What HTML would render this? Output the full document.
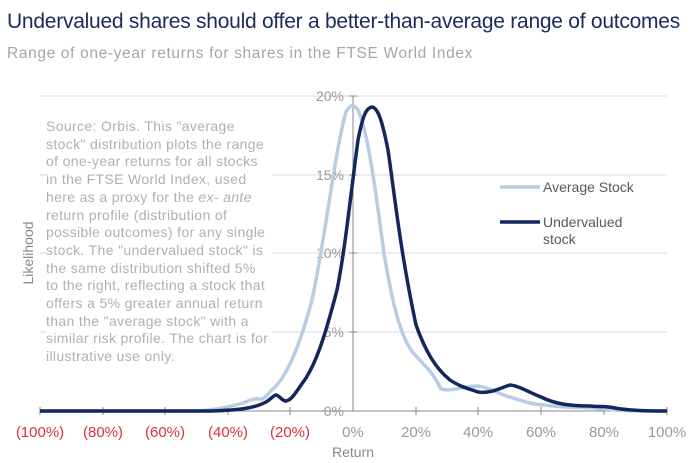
<!DOCTYPE html><html><head><style>
body{margin:0;background:#fff;font-family:"Liberation Sans",sans-serif;}
.t{position:absolute;left:7px;top:10px;font-size:21px;color:#1b2a5c;letter-spacing:-0.25px;white-space:nowrap;}
.s{position:absolute;left:7px;top:45px;font-size:15.5px;color:#a6a6a6;letter-spacing:0.65px;white-space:nowrap;}
.n{position:absolute;left:46px;top:118px;font-size:14px;line-height:17.7px;color:#b0b0b0;background:#fff;white-space:nowrap;letter-spacing:0.35px;padding-right:4px;}
</style></head><body>
<div class="t">Undervalued shares should offer a better-than-average range of outcomes</div>
<div class="s">Range of one-year returns for shares in the FTSE World Index</div>
<svg width="700" height="463" style="position:absolute;left:0;top:0" font-family="Liberation Sans" font-size="14">
<g stroke="#d9d9d9" stroke-width="1">
<line x1="40" x2="667" y1="96" y2="96"/><line x1="40" x2="667" y1="175" y2="175"/><line x1="40" x2="667" y1="253" y2="253"/><line x1="40" x2="667" y1="332" y2="332"/>
</g>
<line x1="353" x2="353" y1="96" y2="411" stroke="#888"/>
<line x1="40" x2="667" y1="411" y2="411" stroke="#888"/>
<g stroke="#888"><line x1="349" x2="357" y1="96" y2="96"/><line x1="349" x2="357" y1="175" y2="175"/><line x1="349" x2="357" y1="253" y2="253"/><line x1="349" x2="357" y1="332" y2="332"/>
<line x1="40" x2="40" y1="407" y2="415"/><line x1="103" x2="103" y1="407" y2="415"/><line x1="165" x2="165" y1="407" y2="415"/><line x1="228" x2="228" y1="407" y2="415"/><line x1="290" x2="290" y1="407" y2="415"/><line x1="416" x2="416" y1="407" y2="415"/><line x1="478" x2="478" y1="407" y2="415"/><line x1="541" x2="541" y1="407" y2="415"/><line x1="604" x2="604" y1="407" y2="415"/><line x1="667" x2="667" y1="407" y2="415"/></g>
<g fill="#999" text-anchor="end"><text x="344" y="101">20%</text><text x="344" y="180">15%</text><text x="344" y="258">10%</text><text x="344" y="337">5%</text><text x="344" y="416">0%</text></g>
<g text-anchor="middle" font-size="15"><g fill="#e0303a"><text x="40" y="437">(100%)</text><text x="103" y="437">(80%)</text><text x="165" y="437">(60%)</text><text x="228" y="437">(40%)</text><text x="290" y="437">(20%)</text></g>
<g fill="#999"><text x="353" y="437">0%</text><text x="416" y="437">20%</text><text x="478" y="437">40%</text><text x="541" y="437">60%</text><text x="604" y="437">80%</text><text x="667" y="437">100%</text></g>
<text x="353" y="457" fill="#888" font-size="14">Return</text>
<text transform="translate(33,253) rotate(-90)" fill="#888" font-size="14">Likelihood</text></g>
<path fill="none" stroke="#b8cce4" stroke-width="3.5" stroke-linejoin="round" d="M40,411 L196,411 C215,410 230,407 243,403 C250,400 255,398 259,399 C265,401 270,390 275,387 C285,377 298,352 312,300 C325,240 335,150 346,112 C350,104 354,104 358,110 C365,125 372,160 384,254 C392,300 400,340 416,356 C425,366 432,371 441,389 C450,392 465,386 478,386 C492,388 500,395 510,397 C525,402 535,405 545,405 C565,408 580,407 595,408 C615,411 640,411 667,411"/>
<path fill="none" stroke="#12275e" stroke-width="3.5" stroke-linejoin="round" d="M40,411 L212,411 C240,410 255,408 266,402 C271,399 274,395 276,395 C280,396 282,401 286,401 C292,400 296,392 306,378 C316,362 324,340 337,290 C345,250 350,200 358,140 C363,115 366,108 372,107 C378,108 382,120 388,150 C394,190 400,250 416,325 C425,350 435,368 450,380 C460,387 470,389 478,392 C490,394 500,388 510,385 C520,386 530,393 541,397 C555,404 570,406 590,406 C600,407 606,406 615,408 C625,410 640,411 667,411"/>
<line x1="500" x2="540" y1="187" y2="187" stroke="#b8cce4" stroke-width="3.5"/>
<line x1="500" x2="540" y1="222" y2="222" stroke="#12275e" stroke-width="3.5"/>
<g fill="#595959" font-size="14"><text x="543" y="192">Average Stock</text><text x="543" y="227">Undervalued</text><text x="543" y="244">stock</text></g>
</svg>
<div class="n">Source: Orbis. This "average<br>stock" distribution plots the range<br>of one-year returns for all stocks<br>in the FTSE World Index, used<br>here as a proxy for the <i>ex- ante</i><br>return profile (distribution of<br>possible outcomes) for any single<br>stock. The "undervalued stock" is<br>the same distribution shifted 5%<br>to the right, reflecting a stock that<br>offers a 5% greater annual return<br>than the "average stock" with a<br>similar risk profile. The chart is for<br>illustrative use only.</div>
</body></html>
